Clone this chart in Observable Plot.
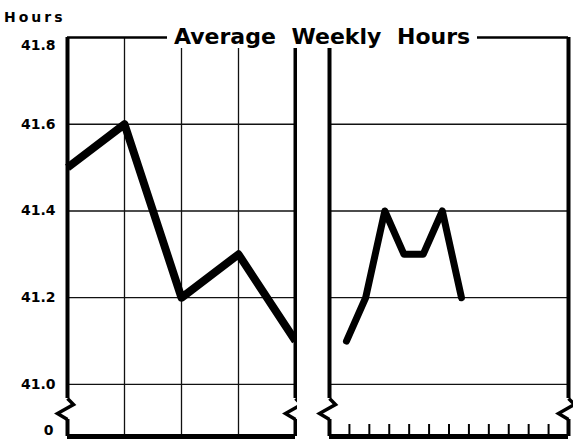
<!DOCTYPE html>
<html><head><meta charset="utf-8">
<script src="https://cdn.jsdelivr.net/npm/d3@7"></script>
<script src="https://cdn.jsdelivr.net/npm/@observablehq/plot@0.6"></script>
<style>
body{margin:0;background:#fff;}
#wrap{position:relative;width:573px;height:439px;overflow:hidden;font-family:"DejaVu Sans",sans-serif;}
#left,#right{position:absolute;top:0;}
#left{left:0}
#right{left:310px}
#title{position:absolute;top:26px;left:167px;background:#fff;padding:0 7px;font-weight:bold;font-size:22px;word-spacing:8px;line-height:22px;white-space:nowrap;color:#000}
#unit{position:absolute;left:4px;top:9px;font-weight:bold;font-size:14px;letter-spacing:3px;color:#000}
</style></head>
<body><div id="wrap"><div id="left"></div><div id="right"></div><div id="unit"></div><div id="title"></div></div>
<script>
// ---- data ----
const years = [1, 2, 3, 4, 5];
const yearlyHours = [41.5, 41.6, 41.2, 41.3, 41.1];
const months = [1, 2, 3, 4, 5, 6, 7];
const monthlyHours = [41.1, 41.2, 41.4, 41.3, 41.3, 41.4, 41.2];
const gridValues = [41.0, 41.2, 41.4, 41.6];
const tickLabels = ["41.0", "41.2", "41.4", "41.6"];
const topValue = 41.8, topLabel = "41.8";
const zeroValue = 40.88, zeroLabel = "0";   // broken axis: zero drawn below the break
const titleText = "Average Weekly Hours";
const unitText = "Hours";

document.getElementById("title").textContent = titleText;
document.getElementById("unit").textContent = unitText;

const H = 439, MT = 37, MB = 3;
const yPx = d3.scaleLinear([zeroValue, topValue], [H - MB, MT]);
const brkTop = yPx.invert(398), brkBot = yPx.invert(419), brkMid = yPx.invert(409);
const zig = {draw(ctx) { ctx.moveTo(0, -11); ctx.lineTo(6, -5); ctx.lineTo(-10, 4); ctx.lineTo(0, 10); }};

const yOpts = {domain: [zeroValue, topValue], axis: null};

function frameMarks(xEnds, gridX) {
  return [
    Plot.ruleY(gridValues, {stroke: "#111", strokeWidth: 1.3}),
    ...(gridX ? [Plot.ruleX(gridX, {y1: zeroValue, y2: topValue, stroke: "#111", strokeWidth: 1.3})] : []),
    Plot.ruleY([topValue], {stroke: "#000", strokeWidth: 2.5}),
    Plot.ruleX(xEnds, {y1: topValue, y2: brkTop, stroke: "#000", strokeWidth: 4}),
    Plot.ruleX(xEnds, {y1: brkBot, y2: zeroValue, stroke: "#000", strokeWidth: 4}),
    Plot.dot(xEnds, {x: d => d, y: () => brkMid, symbol: zig, fill: "none", stroke: "#000", strokeWidth: 3.5, strokeLinejoin: "miter"}),
    Plot.ruleY([zeroValue], {stroke: "#000", strokeWidth: 5})
  ];
}

const left = Plot.plot({
  width: 297, height: H, marginLeft: 67, marginRight: 2, marginTop: MT, marginBottom: MB,
  x: {domain: [years[0], years[years.length - 1]], axis: null},
  y: yOpts,
  marks: [
    ...frameMarks([years[0], years[years.length - 1]], years.slice(1, -1)),
    Plot.line(years, {x: d => d, y: (d, i) => yearlyHours[i], stroke: "#000", strokeWidth: 8, strokeLinejoin: "round", strokeLinecap: "butt"}),
    Plot.text(gridValues, {x: years[0], y: d => d, text: (d, i) => tickLabels[i], textAnchor: "end", dx: -12, fontWeight: "bold", fontSize: 14, fill: "#000"}),
    Plot.text([topValue], {x: years[0], y: d => d, text: [topLabel], textAnchor: "end", dx: -12, dy: 8, fontWeight: "bold", fontSize: 14, fill: "#000"}),
    Plot.text([zeroValue], {x: years[0], y: d => d, text: [zeroLabel], textAnchor: "end", dx: -14, dy: -6, fontWeight: "bold", fontSize: 14, fill: "#000"})
  ],
  style: {fontFamily: "DejaVu Sans", background: "transparent"}
});
document.getElementById("left").append(left);

const xLo = 0.115, xHi = 12.58;
const monthTicks = d3.range(1, 12).map(k => xLo + k * (xHi - xLo) / 12);
const right = Plot.plot({
  width: 263, height: H, marginLeft: 19, marginRight: 5, marginTop: MT, marginBottom: MB,
  x: {domain: [xLo, xHi], axis: null},
  y: yOpts,
  marks: [
    ...frameMarks([xLo, xHi], null),
    Plot.ruleX(monthTicks, {y1: zeroValue, y2: yPx.invert(424), stroke: "#000", strokeWidth: 2}),
    Plot.line(months, {x: d => d, y: (d, i) => monthlyHours[i], stroke: "#000", strokeWidth: 7, strokeLinejoin: "round", strokeLinecap: "round"})
  ],
  style: {fontFamily: "DejaVu Sans", background: "transparent"}
});
document.getElementById("right").append(right);
</script>
</body></html>
